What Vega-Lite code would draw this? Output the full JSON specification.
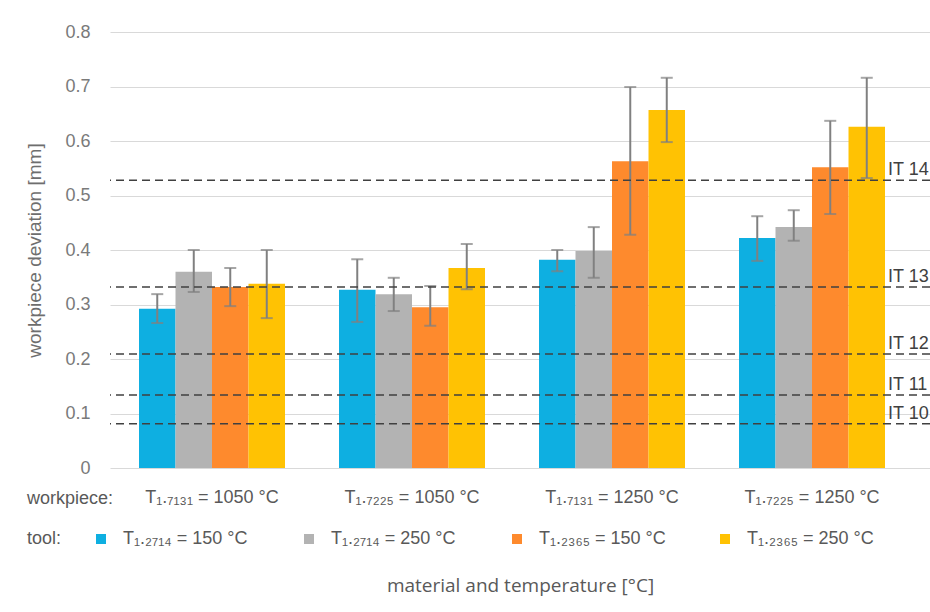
{
  "$schema": "https://vega.github.io/schema/vega-lite/v6.json",
  "width": 820,
  "height": 436,
  "autosize": {"type": "none"},
  "padding": {"left": 110, "top": 32, "right": 0, "bottom": 144},
  "background": "white",
  "config": {
    "font": "Liberation Sans",
    "view": {"stroke": null}
  },
  "title": {
    "text": "workpiece:",
    "orient": "bottom",
    "anchor": "start",
    "frame": "group",
    "dx": -83,
    "dy": -109,
    "fontSize": 18,
    "fontWeight": "normal",
    "color": "#595959",
    "font": "Liberation Sans"
  },
  "datasets": {
    "bars": [
      {"w": "T₁.₇₁₃₁ = 1050 °C", "t": "T₁.₂₇₁₄ = 150 °C", "v": 0.292, "lo": 0.266, "hi": 0.319},
      {"w": "T₁.₇₁₃₁ = 1050 °C", "t": "T₁.₂₇₁₄ = 250 °C", "v": 0.360, "lo": 0.323, "hi": 0.400},
      {"w": "T₁.₇₁₃₁ = 1050 °C", "t": "T₁.₂₃₆₅ = 150 °C", "v": 0.332, "lo": 0.297, "hi": 0.367},
      {"w": "T₁.₇₁₃₁ = 1050 °C", "t": "T₁.₂₃₆₅ = 250 °C", "v": 0.338, "lo": 0.275, "hi": 0.400},
      {"w": "T₁.₇₂₂₅ = 1050 °C", "t": "T₁.₂₇₁₄ = 150 °C", "v": 0.327, "lo": 0.268, "hi": 0.383},
      {"w": "T₁.₇₂₂₅ = 1050 °C", "t": "T₁.₂₇₁₄ = 250 °C", "v": 0.319, "lo": 0.288, "hi": 0.349},
      {"w": "T₁.₇₂₂₅ = 1050 °C", "t": "T₁.₂₃₆₅ = 150 °C", "v": 0.295, "lo": 0.261, "hi": 0.334},
      {"w": "T₁.₇₂₂₅ = 1050 °C", "t": "T₁.₂₃₆₅ = 250 °C", "v": 0.367, "lo": 0.328, "hi": 0.411},
      {"w": "T₁.₇₁₃₁ = 1250 °C", "t": "T₁.₂₇₁₄ = 150 °C", "v": 0.382, "lo": 0.361, "hi": 0.400},
      {"w": "T₁.₇₁₃₁ = 1250 °C", "t": "T₁.₂₇₁₄ = 250 °C", "v": 0.398, "lo": 0.349, "hi": 0.442},
      {"w": "T₁.₇₁₃₁ = 1250 °C", "t": "T₁.₂₃₆₅ = 150 °C", "v": 0.563, "lo": 0.428, "hi": 0.699},
      {"w": "T₁.₇₁₃₁ = 1250 °C", "t": "T₁.₂₃₆₅ = 250 °C", "v": 0.657, "lo": 0.598, "hi": 0.716},
      {"w": "T₁.₇₂₂₅ = 1250 °C", "t": "T₁.₂₇₁₄ = 150 °C", "v": 0.422, "lo": 0.380, "hi": 0.462},
      {"w": "T₁.₇₂₂₅ = 1250 °C", "t": "T₁.₂₇₁₄ = 250 °C", "v": 0.442, "lo": 0.417, "hi": 0.473},
      {"w": "T₁.₇₂₂₅ = 1250 °C", "t": "T₁.₂₃₆₅ = 150 °C", "v": 0.552, "lo": 0.466, "hi": 0.637},
      {"w": "T₁.₇₂₂₅ = 1250 °C", "t": "T₁.₂₃₆₅ = 250 °C", "v": 0.626, "lo": 0.532, "hi": 0.716}
    ],
    "it": [
      {"it": "IT 14", "v": 0.528},
      {"it": "IT 13", "v": 0.332},
      {"it": "IT 12", "v": 0.209},
      {"it": "IT 11", "v": 0.134},
      {"it": "IT 10", "v": 0.081}
    ]
  },
  "layer": [
    {
      "data": {"name": "bars"},
      "mark": {"type": "bar"},
      "encoding": {
        "x": {
          "field": "w", "type": "nominal", "sort": null,
          "scale": {"paddingInner": 0.27, "paddingOuter": 0.185, "align": 0.392},
          "axis": {
            "title": "material and temperature  [°C]",
            "titleX": 410, "titleY": 117, "titleBaseline": "middle", "titleAlign": "center",
            "titleFont": "Open Sans", "titleFontSize": 19, "titleFontWeight": "normal", "titleColor": "#595959",
            "labelAngle": 0, "labelFontSize": 18, "labelColor": "#595959", "labelPadding": 20,
            "labelBaseline": "top", "labelLimit": 300,
            "domain": false, "ticks": false, "grid": false
          }
        },
        "xOffset": {"field": "t", "type": "nominal", "sort": null, "scale": {"paddingInner": 0, "paddingOuter": 0}},
        "y": {
          "field": "v", "type": "quantitative",
          "scale": {"domain": [0, 0.8], "nice": false},
          "axis": {
            "title": "workpiece deviation [mm]",
            "titleFontSize": 19, "titleFontWeight": "normal", "titleColor": "#6e6e6e", "titlePadding": 20,
            "values": [0, 0.1, 0.2, 0.3, 0.4, 0.5, 0.6, 0.7, 0.8],
            "labelExpr": "datum.value == 0 ? '0' : format(datum.value, '.1f')",
            "labelFontSize": 18, "labelColor": "#7a7a7a", "labelPadding": 20,
            "domain": false, "ticks": false,
            "grid": true, "gridColor": "#d9d9d9", "gridWidth": 1.2
          }
        },
        "color": {
          "field": "t", "type": "nominal", "sort": null,
          "scale": {"range": ["#0EAFE1", "#B3B3B3", "#FE8A2D", "#FFC203"]},
          "legend": {
            "title": "tool:",
            "orient": "none", "legendX": -83, "legendY": 498,
            "direction": "horizontal", "columns": 4, "gridAlign": "all",
            "columnPadding": 50,
            "titleOrient": "left", "titleFontSize": 18, "titleFontWeight": "normal", "titleColor": "#595959",
            "titlePadding": 30, "titleBaseline": "middle",
            "symbolType": "square", "symbolSize": 100, "symbolStrokeWidth": 0,
            "labelFontSize": 18, "labelColor": "#595959", "labelOffset": 13, "labelLimit": 300
          }
        }
      }
    },
    {
      "data": {"name": "bars"},
      "mark": {"type": "rule", "color": "#808080", "strokeWidth": 2},
      "encoding": {
        "x": {"field": "w", "type": "nominal", "sort": null},
        "xOffset": {"field": "t", "type": "nominal", "sort": null},
        "y": {"field": "lo", "type": "quantitative"},
        "y2": {"field": "hi"}
      }
    },
    {
      "data": {"name": "bars"},
      "mark": {"type": "tick", "color": "#808080", "thickness": 2, "size": 12, "orient": "horizontal"},
      "encoding": {
        "x": {"field": "w", "type": "nominal", "sort": null},
        "xOffset": {"field": "t", "type": "nominal", "sort": null},
        "y": {"field": "lo", "type": "quantitative"}
      }
    },
    {
      "data": {"name": "bars"},
      "mark": {"type": "tick", "color": "#808080", "thickness": 2, "size": 12, "orient": "horizontal"},
      "encoding": {
        "x": {"field": "w", "type": "nominal", "sort": null},
        "xOffset": {"field": "t", "type": "nominal", "sort": null},
        "y": {"field": "hi", "type": "quantitative"}
      }
    },
    {
      "data": {"name": "it"},
      "mark": {"type": "rule", "color": "#404040", "strokeWidth": 1.5, "strokeDash": [8, 5]},
      "encoding": {
        "y": {"field": "v", "type": "quantitative"}
      }
    },
    {
      "data": {"name": "it"},
      "mark": {"type": "text", "align": "left", "baseline": "alphabetic", "dx": -42, "dy": -5, "fontSize": 18, "color": "#404040"},
      "encoding": {
        "x": {"value": "width"},
        "y": {"field": "v", "type": "quantitative"},
        "text": {"field": "it"}
      }
    }
  ]
}
